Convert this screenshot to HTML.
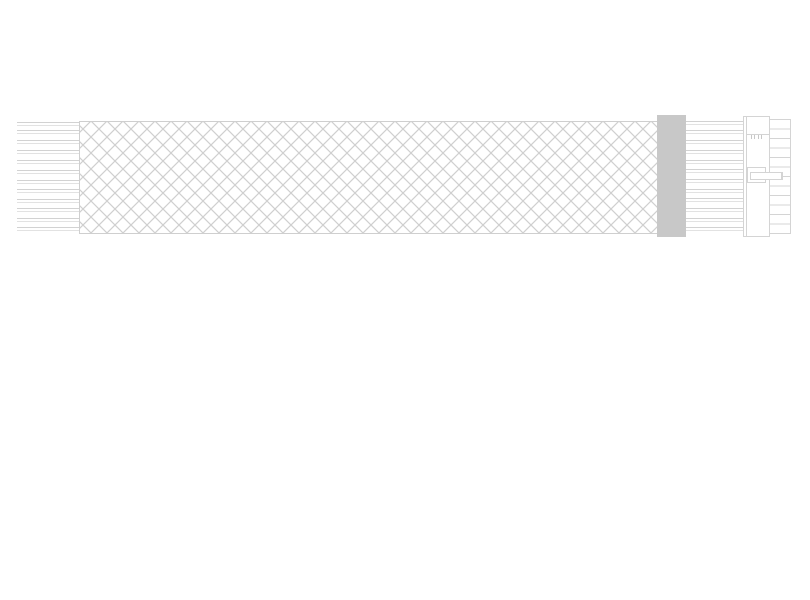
<!DOCTYPE html>
<html><head><style>html,body{margin:0;padding:0;background:#fff}svg{display:block}</style></head>
<body>
<svg width="810" height="600" xmlns="http://www.w3.org/2000/svg">
<defs>
<pattern id="m" patternUnits="userSpaceOnUse" x="91" y="121" width="16" height="16">
<path d="M0 0L16 16M16 0L0 16M-2 14L2 18M14 -2L18 2" stroke="#cfcfcf" stroke-width="1.2" fill="none"/>
</pattern>
</defs>
<g stroke-width="1">
<g id="lw">
<line x1="17" y1="122.5" x2="79" y2="122.5" stroke="#d4d4d4"/>
<line x1="17" y1="125.5" x2="79" y2="125.5" stroke="#e0e0e0"/>
</g>
</g>
<g stroke-width="1" fill="none">
<!-- left wires -->
<path stroke="#d2d2d2" d="M17 122.5H79M17 130.5H79M17 140.5H79M17 150.5H79M17 160.5H79M17 170.5H79M17 180.5H79M17 189.5H79M17 199.5H79M17 208.5H79M17 218.5H79M17 227.5H79"/>
<path stroke="#e2e2e2" d="M17 125.5H79M17 133.5H79M17 143.5H79M17 153.5H79M17 163.5H79M17 173.5H79M17 183.5H79M17 192.5H79M17 202.5H79M17 211.5H79M17 221.5H79M17 230.5H79"/>
<!-- right wires -->
<path stroke="#d2d2d2" d="M686 121.5H743M686 130.5H743M686 140.5H743M686 150.5H743M686 160.5H743M686 169.5H743M686 179.5H743M686 189.5H743M686 198.5H743M686 208.5H743M686 218.5H743M686 227.5H743"/>
<path stroke="#e2e2e2" d="M686 124.5H743M686 133.5H743M686 143.5H743M686 153.5H743M686 163.5H743M686 172.5H743M686 182.5H743M686 192.5H743M686 201.5H743M686 211.5H743M686 221.5H743M686 230.5H743"/>
</g>
<rect x="79.5" y="121.5" width="578" height="112" fill="url(#m)" stroke="#cfcfcf"/>
<rect x="657" y="115" width="29" height="122" fill="#c8c8c8"/>
<!-- connector -->
<g fill="#fff" stroke="#d4d4d4">
<rect x="743.5" y="116.5" width="26" height="120"/>
<line x1="746.5" y1="116.5" x2="746.5" y2="236.5"/>
<line x1="746.5" y1="134.5" x2="769.5" y2="134.5"/>
<path d="M751.5 135v4M754.5 135v4M758.5 135v4M761.5 135v4" stroke="#c8c8c8"/>
<rect x="769.5" y="119.5" width="21" height="9.5"/>
<rect x="769.5" y="129" width="21" height="9.5"/>
<rect x="769.5" y="138.5" width="21" height="9.5"/>
<rect x="769.5" y="148" width="21" height="9.5"/>
<rect x="769.5" y="157.5" width="21" height="9.5"/>
<rect x="769.5" y="167" width="21" height="9.5"/>
<rect x="769.5" y="176.5" width="21" height="9.5"/>
<rect x="769.5" y="186" width="21" height="9.5"/>
<rect x="769.5" y="195.5" width="21" height="9.5"/>
<rect x="769.5" y="205" width="21" height="9.5"/>
<rect x="769.5" y="214.5" width="21" height="9.5"/>
<rect x="769.5" y="224" width="21" height="9.5"/>
<rect x="747.5" y="167.5" width="18" height="15"/>
<rect x="750.5" y="172.5" width="32" height="7"/>
<line x1="781.5" y1="172" x2="781.5" y2="180"/>
</g>
</svg>
</body></html>
